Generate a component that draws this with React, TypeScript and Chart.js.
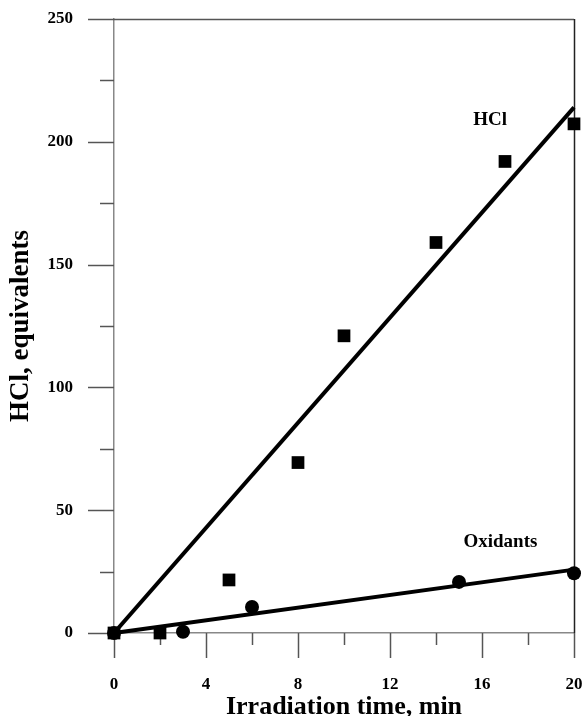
import React, { useEffect, useRef } from "react";
import { Chart, registerables } from "chart.js";

Chart.register(...registerables);

// Measured data
const HCL_TIME = [0, 2, 5, 8, 10, 14, 17, 20];
const HCL_VALUES = [0, 0, 21.6, 69.4, 121, 159, 192, 207.3];
const OX_TIME = [0, 3, 6, 15, 20];
const OX_VALUES = [0, 0.5, 10.6, 20.8, 24.3];

// Linear fit lines (end points)
const HCL_FIT_TIME = [0, 20];
const HCL_FIT_VALUES = [0, 214];
const OX_FIT_TIME = [0, 20];
const OX_FIT_VALUES = [0, 25.8];

// Axes
const X_MAJOR = [0, 4, 8, 12, 16, 20];
const X_MINOR = [2, 6, 10, 14, 18];
const Y_MAJOR = [0, 50, 100, 150, 200, 250];
const Y_MINOR = [25, 75, 125, 175, 225];

// Series labels placed in data coordinates
const LABEL_TEXTS = ["HCl", "Oxidants"];
const LABEL_X = [16.35, 16.8];
const LABEL_Y = [209, 37];

const FONT = "'Liberation Serif', 'Times New Roman', serif";

const toPoints = (xs: number[], ys: number[]) => xs.map((x, i) => ({ x, y: ys[i] }));

const framePlugin = {
  id: "frameTicks",
  beforeDatasetsDraw(chart: any) {
    const { ctx, chartArea, scales } = chart;
    const xs = scales.x;
    const ys = scales.y;
    const y0 = ys.getPixelForValue(0);
    const x0 = xs.getPixelForValue(0);
    ctx.save();
    ctx.lineWidth = 1.5;
    ctx.strokeStyle = "#555";
    X_MAJOR.forEach((v) => {
      const px = Math.round(xs.getPixelForValue(v)) + 0.5;
      ctx.beginPath();
      ctx.moveTo(px, y0);
      ctx.lineTo(px, y0 + 25);
      ctx.stroke();
    });
    X_MINOR.forEach((v) => {
      const px = Math.round(xs.getPixelForValue(v)) + 0.5;
      ctx.beginPath();
      ctx.moveTo(px, y0);
      ctx.lineTo(px, y0 + 12);
      ctx.stroke();
    });
    Y_MAJOR.forEach((v) => {
      const py = Math.round(ys.getPixelForValue(v)) + 0.5;
      ctx.beginPath();
      ctx.moveTo(x0 - 26, py);
      ctx.lineTo(x0, py);
      ctx.stroke();
    });
    Y_MINOR.forEach((v) => {
      const py = Math.round(ys.getPixelForValue(v)) + 0.5;
      ctx.beginPath();
      ctx.moveTo(x0 - 14, py);
      ctx.lineTo(x0, py);
      ctx.stroke();
    });
    const topY = Math.round(chartArea.top) + 0.5;
    ctx.beginPath();
    ctx.moveTo(x0, topY);
    ctx.lineTo(chartArea.right, topY);
    ctx.stroke();
    ctx.strokeStyle = "#222";
    const rx = Math.round(chartArea.right) + 0.5;
    ctx.beginPath();
    ctx.moveTo(rx, chartArea.top);
    ctx.lineTo(rx, y0);
    ctx.stroke();
    ctx.restore();
  },
  afterDatasetsDraw(chart: any) {
    const { ctx, scales } = chart;
    ctx.save();
    ctx.fillStyle = "#000";
    ctx.font = `bold 19px ${FONT}`;
    ctx.textAlign = "center";
    ctx.textBaseline = "middle";
    LABEL_TEXTS.forEach((t, i) => {
      ctx.fillText(t, scales.x.getPixelForValue(LABEL_X[i]), scales.y.getPixelForValue(LABEL_Y[i]));
    });
    ctx.restore();
  },
};

export default function App() {
  const ref = useRef<HTMLCanvasElement | null>(null);
  useEffect(() => {
    if (!ref.current) return;
    const chart = new Chart(ref.current, {
      type: "scatter",
      data: {
        datasets: [
          {
            label: "HCl fit",
            data: toPoints(HCL_FIT_TIME, HCL_FIT_VALUES),
            showLine: true,
            borderColor: "#000",
            borderWidth: 4,
            pointRadius: 0,
            clip: false as any,
          },
          {
            label: "Oxidants fit",
            data: toPoints(OX_FIT_TIME, OX_FIT_VALUES),
            showLine: true,
            borderColor: "#000",
            borderWidth: 4,
            pointRadius: 0,
            clip: false as any,
          },
          {
            label: "HCl",
            data: toPoints(HCL_TIME, HCL_VALUES),
            pointStyle: "rect",
            pointRadius: 9,
            borderWidth: 0,
            backgroundColor: "#000",
            borderColor: "#000",
            clip: false as any,
          },
          {
            label: "Oxidants",
            data: toPoints(OX_TIME, OX_VALUES),
            pointStyle: "circle",
            pointRadius: 7,
            borderWidth: 0,
            backgroundColor: "#000",
            borderColor: "#000",
            clip: false as any,
          },
        ],
      },
      options: {
        animation: false,
        responsive: false,
        layout: { padding: { left: 0, top: 19, right: 11, bottom: 0 }, autoPadding: false },
        plugins: { legend: { display: false }, tooltip: { enabled: false } },
        scales: {
          x: {
            type: "linear",
            min: 0,
            max: 20,
            afterBuildTicks: (s: any) => {
              s.ticks = X_MAJOR.map((v) => ({ value: v }));
            },
            afterFit: (s: any) => {
              s.height = 83;
              s.paddingLeft = 0;
              s.paddingRight = 0;
            },
            grid: { display: false, drawTicks: false },
            border: { display: true, color: "#888", width: 1.5 },
            ticks: {
              color: "#000",
              padding: 41,
              font: { family: FONT, size: 17, weight: "bold" },
              maxRotation: 0,
            },
            title: {
              display: true,
              text: "Irradiation time, min",
              color: "#000",
              font: { family: FONT, size: 26, weight: "bold", lineHeight: 1 },
              padding: { top: 0, bottom: -4 },
            },
          },
          y: {
            type: "linear",
            min: 0,
            max: 250,
            afterBuildTicks: (s: any) => {
              s.ticks = Y_MAJOR.map((v) => ({ value: v }));
            },
            afterFit: (s: any) => {
              s.width = 114;
              s.paddingTop = 0;
              s.paddingBottom = 0;
            },
            grid: { display: false, drawTicks: false },
            border: { display: true, color: "#888", width: 1.5 },
            ticks: {
              color: "#000",
              padding: 41,
              font: { family: FONT, size: 17, weight: "bold" },
            },
            title: {
              display: true,
              text: "HCl, equivalents",
              color: "#000",
              font: { family: FONT, size: 27, weight: "bold", lineHeight: 1 },
              padding: { top: 8, bottom: 0 },
            },
          },
        },
      },
      plugins: [framePlugin],
    });
    return () => chart.destroy();
  }, []);
  return (
    <div style={{ position: "absolute", left: 0, top: 0, width: 585, height: 716, background: "#fff" }}>
      <canvas ref={ref} width={585} height={716} style={{ display: "block", width: 585, height: 716 }} />
    </div>
  );
}
